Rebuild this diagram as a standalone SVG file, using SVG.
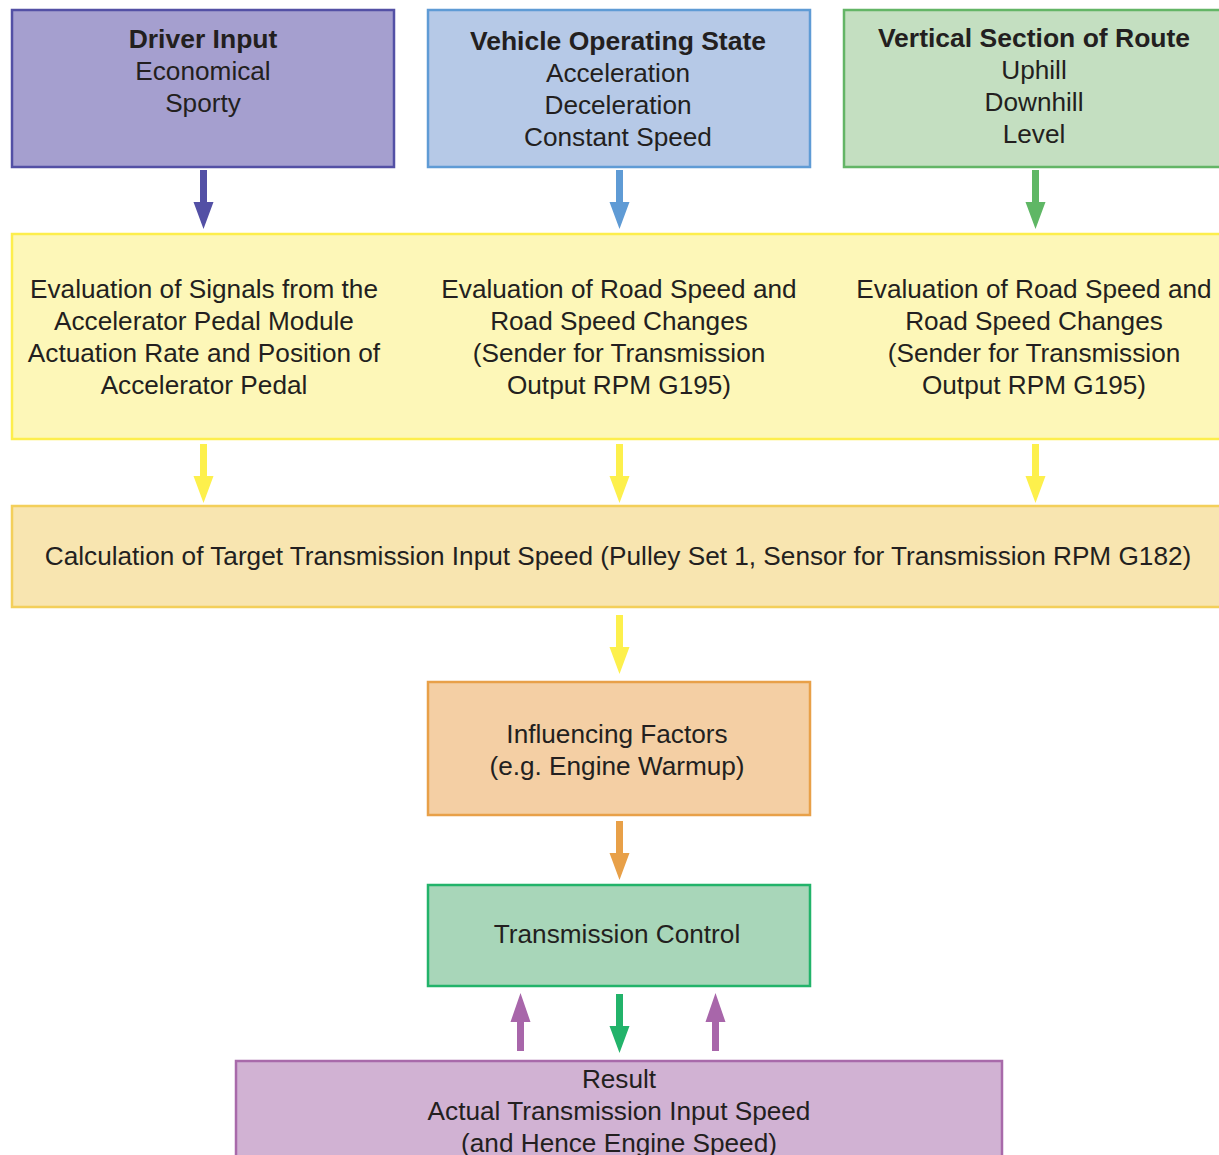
<svg xmlns="http://www.w3.org/2000/svg" width="1219" height="1155" viewBox="0 0 1219 1155">
<style>
text{font-family:"Liberation Sans",Arial,sans-serif;font-size:26.2px;fill:#231f20;text-anchor:middle}
.b{font-weight:bold;font-size:26.5px}
.box{stroke-width:2.5}
</style>
<defs>
<path id="ad" d="M-3.5,0 H3.5 V32 H10 L0,59 L-10,32 H-3.5 Z"/>
<path id="au" d="M-3.5,58 H3.5 V29 H10 L0,0 L-10,29 H-3.5 Z"/>
</defs>
<rect width="1219" height="1155" fill="#fff"/>
<g id="driver-input">
<rect class="box" x="12" y="10" width="382" height="157" fill="#a59fcf" stroke="#5350a5"/>
<text x="203" y="48" class="b">Driver Input</text>
<text x="203" y="80">Economical</text>
<text x="203" y="112">Sporty</text>
</g>
<g id="vehicle-state">
<rect class="box" x="428" y="10" width="382" height="157" fill="#b6c9e7" stroke="#5f9bd5"/>
<text x="618" y="50" class="b">Vehicle Operating State</text>
<text x="618" y="82">Acceleration</text>
<text x="618" y="114">Deceleration</text>
<text x="618" y="146">Constant Speed</text>
</g>
<g id="vertical-section">
<rect class="box" x="844" y="10" width="390" height="157" fill="#c4dfc1" stroke="#63b566"/>
<text x="1034" y="47" class="b">Vertical Section of Route</text>
<text x="1034" y="79">Uphill</text>
<text x="1034" y="111">Downhill</text>
<text x="1034" y="143">Level</text>
</g>
<g id="evaluation">
<rect class="box" x="12" y="234" width="1222" height="205" fill="#fdf7b8" stroke="#fdee4c"/>
<text x="204" y="298">Evaluation of Signals from the</text>
<text x="204" y="330">Accelerator Pedal Module</text>
<text x="204" y="362">Actuation Rate and Position of</text>
<text x="204" y="394">Accelerator Pedal</text>
<text x="619" y="298">Evaluation of Road Speed and</text>
<text x="619" y="330">Road Speed Changes</text>
<text x="619" y="362">(Sender for Transmission</text>
<text x="619" y="394">Output RPM G195)</text>
<text x="1034" y="298">Evaluation of Road Speed and</text>
<text x="1034" y="330">Road Speed Changes</text>
<text x="1034" y="362">(Sender for Transmission</text>
<text x="1034" y="394">Output RPM G195)</text>
</g>
<g id="calculation">
<rect class="box" x="12" y="506" width="1222" height="101" fill="#f8e5b0" stroke="#f3cf5a"/>
<text x="618" y="565">Calculation of Target Transmission Input Speed (Pulley Set 1, Sensor for Transmission RPM G182)</text>
</g>
<g id="influencing">
<rect class="box" x="428" y="682" width="382" height="133" fill="#f4cfa4" stroke="#e8a048"/>
<text x="617" y="743">Influencing Factors</text>
<text x="617" y="775">(e.g. Engine Warmup)</text>
</g>
<g id="transmission-control">
<rect class="box" x="428" y="885" width="382" height="101" fill="#a8d6b9" stroke="#22b36a"/>
<text x="617" y="943">Transmission Control</text>
</g>
<g id="result">
<rect class="box" x="236" y="1061" width="766" height="110" fill="#d1b2d3" stroke="#a86aaa"/>
<text x="619" y="1088">Result</text>
<text x="619" y="1120">Actual Transmission Input Speed</text>
<text x="619" y="1152">(and Hence Engine Speed)</text>
</g>
<g id="connectors">
<use href="#ad" x="203.5" y="170" fill="#5350a5"/>
<use href="#ad" x="619.5" y="170" fill="#5f9bd5"/>
<use href="#ad" x="1035.5" y="170" fill="#5fb765"/>
<use href="#ad" x="203.5" y="444" fill="#fdf04c"/>
<use href="#ad" x="619.5" y="444" fill="#fdf04c"/>
<use href="#ad" x="1035.5" y="444" fill="#fdf04c"/>
<use href="#ad" x="619.5" y="615" fill="#fdf04c"/>
<use href="#ad" x="619.5" y="821" fill="#e8a048"/>
<use href="#ad" x="619.5" y="994" fill="#22b36a"/>
<use href="#au" x="520.5" y="993" fill="#a866aa"/>
<use href="#au" x="715.5" y="993" fill="#a866aa"/>
</g>
</svg>
